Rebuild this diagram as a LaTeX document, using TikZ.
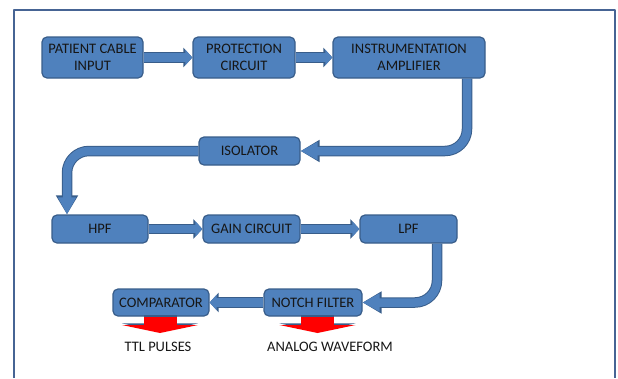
\documentclass[tikz,border=0pt]{standalone}
\usepackage{fontspec}
\setmainfont{Carlito}
\usepackage{tikz}
\usetikzlibrary{arrows.meta}
\usepackage{xcolor}
\definecolor{boxblue}{RGB}{79,129,189}
\definecolor{edgeblue}{RGB}{56,93,138}
\definecolor{frameblue}{RGB}{70,100,148}
\definecolor{textdark}{RGB}{22,22,22}

\begin{document}
\begin{tikzpicture}[x=1pt,y=-1pt,line join=round,
  block/.style={draw=edgeblue,fill=boxblue,line width=1.2pt,rounded corners=5pt,text=textdark,align=center,inner sep=0pt,font=\fontsize{14.5}{17}\selectfont},
  label/.style={text=textdark,inner sep=0pt,font=\fontsize{14.5}{17}\selectfont},
  flow/.style={draw=boxblue,line width=8.5pt,-{Triangle[length=7pt,width=15pt]},
    preaction={draw=edgeblue,line width=10.5pt,-{Triangle[length=9pt,width=19pt]}}},
  bent/.style={draw=boxblue,line width=8.5pt,rounded corners=22pt,-{Triangle[length=17pt,width=17pt]},
    preaction={draw=edgeblue,line width=10.5pt,-{Triangle[length=19pt,width=21pt]}}},
  output/.style={draw=red,line width=33pt,-{Triangle[length=8pt,width=76pt]},
    preaction={draw=edgeblue,line width=33pt,-{Triangle[length=8pt,width=76pt]},transform canvas={yshift=1.6pt}}}]
\useasboundingbox (0,0) rectangle (618,378);
\draw[frameblue,line width=1.5pt] (14,378) |- (615,10) -- (615,378);
\node[block,minimum width=101pt,minimum height=41pt] (cable) at (92.5,57.5) {PATIENT CABLE\\INPUT};
\node[block,minimum width=102pt,minimum height=41pt] (prot) at (244,57.5) {PROTECTION\\CIRCUIT};
\node[block,minimum width=152pt,minimum height=41pt] (amp) at (409,57.5) {INSTRUMENTATION\\AMPLIFIER};
\node[block,minimum width=101pt,minimum height=28pt] (iso) at (249.5,151) {ISOLATOR};
\node[block,minimum width=96pt,minimum height=28pt] (hpf) at (100,229) {HPF};
\node[block,minimum width=97pt,minimum height=28pt] (gain) at (251.5,229) {GAIN CIRCUIT};
\node[block,minimum width=97pt,minimum height=28pt] (lpf) at (408.5,229) {LPF};
\node[block,minimum width=96pt,minimum height=27pt] (comp) at (161,302.5) {COMPARATOR};
\node[block,minimum width=98pt,minimum height=27pt] (notch) at (313,302.5) {NOTCH FILTER};
\draw[flow] (cable) -- (prot);
\draw[flow] (prot) -- (amp);
\draw[bent] ([xshift=58pt]amp.south) |- (iso.east);
\draw[bent] (iso.west) -| ([xshift=-33pt]hpf.north);
\draw[flow] (hpf) -- (gain);
\draw[flow] (gain) -- (lpf);
\draw[bent] ([xshift=28.5pt]lpf.south) |- (notch.east);
\draw[flow] (notch) -- (comp);
\coordinate (ttltip) at (160,333);
\coordinate (anatip) at (317.5,333);
\draw[output] (comp.south -| ttltip) -- (ttltip);
\draw[output] (notch.south -| anatip) -- (anatip);
\node[label] (ttl) at (158,347) {TTL PULSES};
\node[label] (analog) at (330,347) {ANALOG WAVEFORM};
\end{tikzpicture}
\end{document}
